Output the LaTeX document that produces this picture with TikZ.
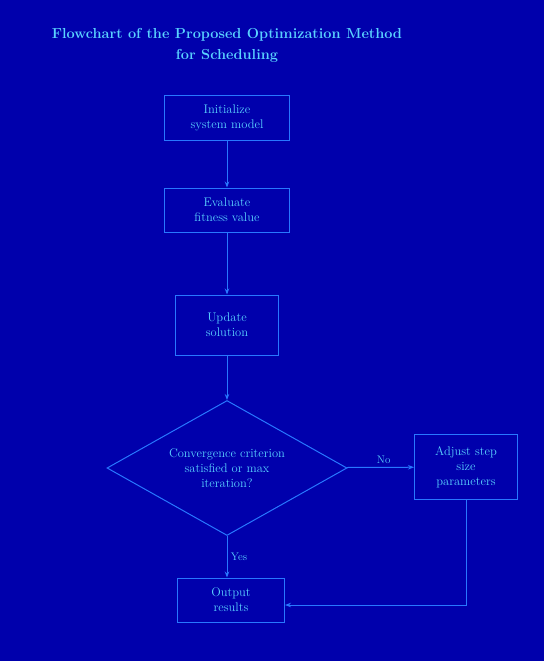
\documentclass[tikz,border=0pt]{standalone}
\usetikzlibrary{arrows.meta,shapes.geometric}
\definecolor{bg}{RGB}{0,0,172}
\definecolor{ln}{RGB}{40,120,255}
\definecolor{tx}{RGB}{90,210,255}
\begin{document}
\begin{tikzpicture}[x=1pt,y=-1pt,
  every node/.style={text=tx,font=\fontsize{12.5}{15}\selectfont,align=center},
  procbox/.style={draw=ln,line width=1pt,rectangle,inner sep=4pt},
  decbox/.style={draw=ln,line width=1pt,diamond,aspect=1.8,inner sep=1pt},
  arr/.style={draw=ln,line width=1pt,-{Stealth[length=6pt]}},
  lbl/.style={font=\fontsize{11}{13}\selectfont}]
\fill[bg] (0,0) rectangle (544,661);
\useasboundingbox (0,0) rectangle (544,661);
\node[font=\bfseries\fontsize{14.5}{21}\selectfont] (title) at (227,45) {Flowchart of the Proposed Optimization Method\\for Scheduling};
\node[procbox,minimum width=125pt,minimum height=45pt] (b1) at (227,118) {Initialize\\system model};
\node[procbox,minimum width=125pt,minimum height=44pt] (b2) at (227,210) {Evaluate\\fitness value};
\node[procbox,minimum width=103pt,minimum height=60pt] (b3) at (227,325) {Update\\solution};
\node[decbox,minimum width=240pt,minimum height=135pt] (d) at (227,468) {Convergence criterion\\satisfied or max\\iteration?};
\node[procbox,minimum width=103pt,minimum height=65pt] (r) at (466,467) {Adjust step\\size\\parameters};
\node[procbox,minimum width=107pt,minimum height=44pt] (e) at (231,600) {Output\\results};
\coordinate (corner) at (466,605);
\draw[arr] (b1) -- (b2);
\draw[arr] (b2) -- (b3);
\draw[arr] (b3) -- (d);
\draw[arr] (d) -- node[lbl,above,pos=0.55] {No} (r);
\draw[arr] (d.south) -- node[lbl,right] {Yes} (d.south |- e.north);
\draw[arr] (r) -- (corner) -- (e.east |- corner);
\end{tikzpicture}
\end{document}
